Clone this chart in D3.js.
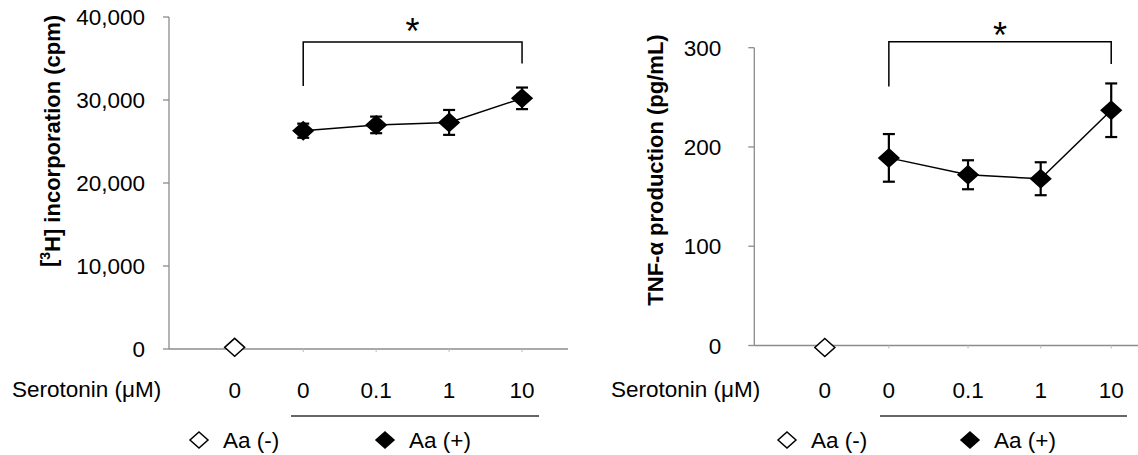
<!DOCTYPE html>
<html lang="en">
<head>
<meta charset="utf-8">
<style>
    body { margin: 0; background: #fff; }
    text { font-family: "Liberation Sans", Arial, sans-serif; fill: #000; }
    .axis-line { stroke: #8c8c8c; stroke-width: 1.3; }
</style>
<script src="https://cdn.jsdelivr.net/npm/d3@7"></script>
</head>
<body>
<svg id="chart" width="1138" height="455"></svg>
<script>
// categories (serotonin, uM) - first one is Aa(-), rest Aa(+)
var doseLabels = ["0", "0", "0.1", "1", "10"];
var groups = ["Aa (-)", "Aa (+)", "Aa (+)", "Aa (+)", "Aa (+)"];

// [3H] incorporation (cpm)
var thymValues = [200, 26300, 27000, 27300, 30200];
var thymErrors = [0, 850, 1000, 1500, 1300];
var thymTicks = [0, 10000, 20000, 30000, 40000];

// TNF-alpha production (pg/mL)
var tnfValues = [-2, 189, 172, 168, 237];
var tnfErrors = [0, 24, 14.6, 16.6, 27];
var tnfTicks = [0, 100, 200, 300];

var svg = d3.select("#chart");
var fmt = d3.format(",");

function diamond(hw, hh) {
    return "M0," + (-hh) + "L" + hw + ",0L0," + hh + "L" + (-hw) + ",0Z";
}

function drawPanel(p) {
    var x = d3.scaleLinear().domain([0, p.xMax]).range([p.left, p.right]);
    var y = d3.scaleLinear().domain([0, p.ticks[p.ticks.length - 1]]).range([p.bottom, p.top]);
    var g = svg.append("g");

    // y axis
    g.append("line").attr("class", "axis-line")
        .attr("x1", p.left).attr("x2", p.left)
        .attr("y1", y(p.ticks[p.ticks.length - 1])).attr("y2", y(0));
    g.selectAll(".ytick").data(p.ticks).enter().append("line")
        .attr("class", "axis-line")
        .attr("x1", p.left - 6).attr("x2", p.left)
        .attr("y1", function(d) { return y(d); })
        .attr("y2", function(d) { return y(d); });
    g.selectAll(".ylab").data(p.ticks).enter().append("text")
        .attr("x", p.left - p.labGap)
        .attr("y", function(d) { return y(d); })
        .attr("dy", "0.36em")
        .attr("text-anchor", "end")
        .style("font-size", "22.5px")
        .text(function(d) { return fmt(d); });

    // x axis
    g.append("line").attr("class", "axis-line")
        .attr("x1", p.left).attr("x2", p.right)
        .attr("y1", y(0)).attr("y2", y(0));
    g.selectAll(".xtick").data(p.xPos.slice(1)).enter().append("line")
        .attr("stroke", "#bbb")
        .attr("x1", function(d) { return x(d); })
        .attr("x2", function(d) { return x(d); })
        .attr("y1", y(0)).attr("y2", y(0) + 3);

    // y title
    var t = g.append("text")
        .attr("transform", "translate(" + p.titleX + "," + p.titleY + ") rotate(-90)")
        .attr("text-anchor", "middle")
        .attr("dy", "0.36em")
        .style("font-size", "22px")
        .style("font-weight", "bold");
    p.title(t);

    // significance bracket
    var bx1 = x(p.xPos[1]), bx2 = x(p.xPos[4]);
    g.append("path")
        .attr("fill", "none").attr("stroke", "#000").attr("stroke-width", 1.5)
        .attr("d", "M" + bx1 + "," + y(p.bracket[1]) + "V" + y(p.bracket[0]) +
                   "H" + bx2 + "V" + y(p.bracket[2]));
    g.append("text")
        .attr("x", (bx1 + bx2) / 2)
        .attr("y", y(p.bracket[0]) + p.starDy)
        .attr("text-anchor", "middle")
        .style("font-size", "36px")
        .text("*");

    // line through Aa(+) points
    var plus = d3.range(1, 5);
    g.append("path")
        .datum(plus)
        .attr("fill", "none").attr("stroke", "#000").attr("stroke-width", 1.5)
        .attr("d", d3.line()
            .x(function(i) { return x(p.xPos[i]); })
            .y(function(i) { return y(p.values[i]); }));

    // error bars
    var eb = g.selectAll(".err").data(plus).enter().append("g")
        .attr("stroke", "#000").attr("stroke-width", 2.2);
    eb.append("line")
        .attr("x1", function(i) { return x(p.xPos[i]); })
        .attr("x2", function(i) { return x(p.xPos[i]); })
        .attr("y1", function(i) { return y(p.values[i] + p.errors[i]); })
        .attr("y2", function(i) { return y(p.values[i] - p.errors[i]); });
    [1, -1].forEach(function(s) {
        eb.append("line")
            .attr("x1", function(i) { return x(p.xPos[i]) - 6; })
            .attr("x2", function(i) { return x(p.xPos[i]) + 6; })
            .attr("y1", function(i) { return y(p.values[i] + s * p.errors[i]); })
            .attr("y2", function(i) { return y(p.values[i] + s * p.errors[i]); });
    });

    // markers
    g.selectAll(".pt").data(d3.range(0, 5)).enter().append("path")
        .attr("d", diamond(10, 9))
        .attr("transform", function(i) { return "translate(" + x(p.xPos[i]) + "," + y(p.values[i]) + ")"; })
        .attr("fill", function(i) { return groups[i] === "Aa (-)" ? "#fff" : "#000"; })
        .attr("stroke", "#000").attr("stroke-width", 1.5);

    // dose labels
    g.append("text")
        .attr("x", p.serX).attr("y", 389).attr("dy", "0.36em")
        .style("font-size", "22.5px")
        .text("Serotonin (\u03bcM)");
    g.selectAll(".dose").data(doseLabels).enter().append("text")
        .attr("x", function(d, i) { return x(p.xPos[i]); })
        .attr("y", 390).attr("dy", "0.36em")
        .attr("text-anchor", "middle")
        .style("font-size", "22.5px")
        .text(function(d) { return d; });

    // Aa(+) underline
    g.append("line")
        .attr("stroke", "#333").attr("stroke-width", 1.6)
        .attr("x1", p.underline[0]).attr("x2", p.underline[1])
        .attr("y1", 416).attr("y2", 416);

    // legend
    var leg = [{ name: "Aa (-)", fill: "#fff", x: p.legX[0] }, { name: "Aa (+)", fill: "#000", x: p.legX[1] }];
    var lg = g.selectAll(".leg").data(leg).enter().append("g")
        .attr("transform", function(d) { return "translate(" + d.x + ",440)"; });
    lg.append("path")
        .attr("d", diamond(9, 8))
        .attr("fill", function(d) { return d.fill; })
        .attr("stroke", "#000").attr("stroke-width", 1.5);
    lg.append("text")
        .attr("x", 24).attr("dy", "0.36em")
        .style("font-size", "22.5px")
        .text(function(d) { return d.name; });
}

drawPanel({
    left: 169, right: 568, xMax: 5.47, top: 17, bottom: 349,
    xPos: [0.9, 1.84, 2.84, 3.84, 4.84],
    ticks: thymTicks, values: thymValues, errors: thymErrors,
    labGap: 24, titleX: 48, titleY: 141,
    bracket: [37000, 31700, 34400], starDy: 2,
    serX: 12, underline: [291, 539], legX: [199, 385],
    title: function(t) {
        t.append("tspan").text("[");
        t.append("tspan").attr("dy", "-0.45em").style("font-size", "14px").text("3");
        t.append("tspan").attr("dy", "0.45em").text("H] incorporation (cpm)");
    }
});

drawPanel({
    left: 754.3, right: 1140, xMax: 5.36, top: 47.7, bottom: 345.5,
    xPos: [0.98, 1.87, 2.97, 3.98, 4.96],
    ticks: tnfTicks, values: tnfValues, errors: tnfErrors,
    labGap: 33, titleX: 655, titleY: 170,
    bracket: [306, 261, 283.5], starDy: 6,
    serX: 611, underline: [880, 1127], legX: [787, 970],
    title: function(t) { t.text("TNF-\u03b1 production (pg/mL)"); }
});
</script>
</body>
</html>
